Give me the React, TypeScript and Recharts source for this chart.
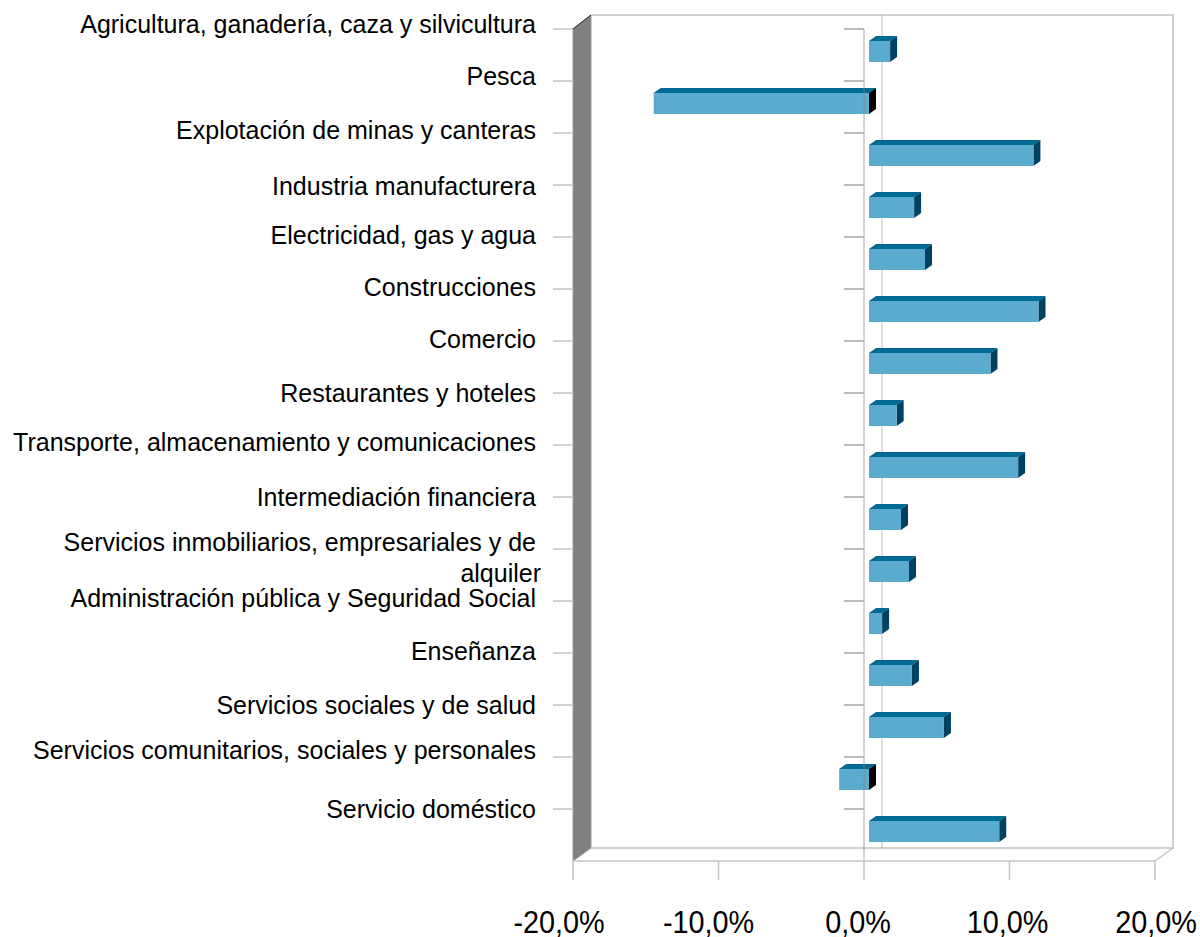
import { Bar, BarChart, ReferenceLine, XAxis, YAxis, usePlotArea } from "recharts";

const categories = [
  "Agricultura, ganadería, caza y silvicultura",
  "Pesca",
  "Explotación de minas y canteras",
  "Industria manufacturera",
  "Electricidad, gas y agua",
  "Construcciones",
  "Comercio",
  "Restaurantes y hoteles",
  "Transporte, almacenamiento y comunicaciones",
  "Intermediación financiera",
  "Servicios inmobiliarios, empresariales y de\nalquiler",
  "Administración pública y Seguridad Social",
  "Enseñanza",
  "Servicios sociales y de salud",
  "Servicios comunitarios, sociales y personales",
  "Servicio doméstico",
];

const growth = [1.45, -14.8, 11.3, 3.1, 3.85, 11.65, 8.35, 1.9, 10.25, 2.2, 2.75, 0.9, 2.95, 5.15, -2.05, 8.95];

const xTicks = [-20, -10, 0, 10, 20];

const data = categories.map((name, i) => ({ name, value: growth[i] }));

const WIDTH = 1200;
const HEIGHT = 937;
const GRID = "#c4c4c4";
const AXIS = "#a6a6a6";
const ZERO_OFFSET = 291; // left edge of plot -> zero line
const BAND = 52;
const WALL_DX = 18;
const WALL_DY = 13;

// the original labels sit a little unevenly around their ticks
const labelNudge = [-5, -5, -3, 1, -2, -2, -2, 0, -3, 0, -7, -3, -2, 0, -7, 0];
const xLabelNudge = [-14, -10, -6, -2, 1];

const CategoryTick = (props: any) => {
  const { x, y, payload, index } = props;
  const top = y - BAND / 2;
  const lines: string[] = String(payload.value).split("\n");
  const labelY = top + labelNudge[index];
  return (
    <g>
      <line x1={x - 20} x2={x} y1={top} y2={top} stroke={GRID} strokeWidth={1.5} />
      <line
        x1={x + ZERO_OFFSET - 20}
        x2={x + ZERO_OFFSET}
        y1={top}
        y2={top}
        stroke={AXIS}
        strokeWidth={1.5}
      />
      {lines.map((line, i) => (
        <text
          key={line}
          x={i === 0 ? x - 37 : x - 32}
          y={labelY + i * 31}
          textAnchor="end"
          dominantBaseline="central"
          fontFamily="Liberation Sans"
          fontSize={25}
          fill="#000"
        >
          {line}
        </text>
      ))}
    </g>
  );
};

// value labels are tall and condensed in the original
const ValueTick = (props: any) => {
  const { x, payload, index } = props;
  const label = `${payload.value.toFixed(1).replace(".", ",")}%`;
  return (
    <g transform={`translate(${x + xLabelNudge[index]},${HEIGHT - 4}) scale(0.9,1)`}>
      <text textAnchor="middle" fontFamily="Liberation Sans" fontSize={32} fill="#000">
        {label}
      </text>
    </g>
  );
};

const Box = (props: any) => {
  const { x, y, width, height, value } = props;
  const left = Math.min(x, x + width) + 5;
  const right = Math.max(x, x + width) + 5;
  const top = y - 4;
  const bottom = top + height;
  const dx = 7;
  const dy = 5;
  const sideColor = value < 0 ? "#000000" : "#00415f";
  return (
    <g>
      <polygon
        points={`${left},${top} ${left + dx},${top - dy} ${right + dx},${top - dy} ${right},${top}`}
        fill="#006a94"
      />
      <polygon
        points={`${right},${top} ${right + dx},${top - dy} ${right + dx},${bottom - dy} ${right},${bottom}`}
        fill={sideColor}
      />
      <rect x={left} y={top} width={right - left} height={height} fill="#5aabcd" />
    </g>
  );
};

// 3D box behind the bars: grey left wall, back wall outline and floor
const Walls = () => {
  const plot = usePlotArea();
  if (!plot) return null;
  const l = plot.x;
  const r = plot.x + plot.width;
  const t = plot.y;
  const b = plot.y + plot.height;
  return (
    <g>
      <polygon
        points={`${l},${t} ${l + WALL_DX},${t - WALL_DY - 1} ${l + WALL_DX},${b - WALL_DY} ${l},${b}`}
        fill="#808080"
        stroke="#9a9a9a"
        strokeWidth={1}
      />
      <line x1={l} y1={t} x2={l + WALL_DX} y2={t - WALL_DY - 1} stroke="#222" strokeWidth={1} />
      <polyline
        points={`${l + WALL_DX},${t - WALL_DY - 1} ${r + WALL_DX},${t - WALL_DY - 1} ${r + WALL_DX},${b - WALL_DY} ${l + WALL_DX},${b - WALL_DY}`}
        fill="none"
        stroke={GRID}
        strokeWidth={1.5}
      />
      <line x1={r} y1={b} x2={r + WALL_DX} y2={b - WALL_DY} stroke={GRID} strokeWidth={1.5} />
    </g>
  );
};

// zero gridline on the back wall, it shows faintly through the bars
const BackZeroLine = () => {
  const plot = usePlotArea();
  if (!plot) return null;
  const x = plot.x + ZERO_OFFSET + WALL_DX;
  return (
    <line
      x1={x}
      x2={x}
      y1={plot.y - WALL_DY - 1}
      y2={plot.y + plot.height - WALL_DY}
      stroke="#8a8a8a"
      strokeOpacity={0.55}
    />
  );
};

export default function App() {
  return (
    <div style={{ position: "absolute", left: 0, top: 0 }}>
      <BarChart
        width={WIDTH}
        height={HEIGHT}
        data={data}
        layout="vertical"
        margin={{ top: 29, right: 45, bottom: 0, left: 0 }}
        barSize={21}
      >
        <Walls />
        <XAxis
          type="number"
          domain={[-20, 20]}
          ticks={xTicks}
          height={76}
          allowDataOverflow
          tickSize={19}
          stroke={GRID}
          tickLine={{ stroke: GRID, strokeWidth: 1.5 }}
          axisLine={{ stroke: GRID, strokeWidth: 1.5 }}
          tick={<ValueTick />}
        />
        <YAxis
          type="category"
          dataKey="name"
          width={573}
          axisLine={false}
          tickLine={false}
          tickSize={0}
          tickMargin={0}
          interval={0}
          tick={<CategoryTick />}
        />
        <Bar dataKey="value" isAnimationActive={false} shape={<Box />} />
        <BackZeroLine />
        <ReferenceLine x={0} stroke="#8a8a8a" strokeOpacity={0.7} strokeWidth={1} />
      </BarChart>
    </div>
  );
}
